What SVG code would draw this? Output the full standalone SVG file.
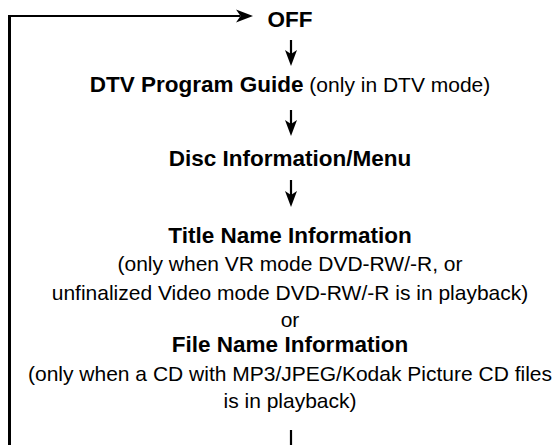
<svg xmlns="http://www.w3.org/2000/svg" width="558" height="445" viewBox="0 0 558 445">
<style>
text{font-family:"Liberation Sans",Arial,sans-serif;fill:#000;text-anchor:middle}
.b{font-weight:bold;font-size:22.5px}
.r{font-size:21px}
.ln{stroke:#000;fill:none}
.hd{fill:#000;stroke:none}
</style>
<rect width="558" height="445" fill="#fff"/>
<g id="connectors">
<path class="ln" d="M9.5 445 V16" stroke-width="3"/>
<path class="ln" d="M8 16 H240" stroke-width="2.2"/>
<path class="hd" d="M253 16 L236 9.5 L240.5 16 L236 22.5 Z"/>
<path class="ln" d="M291 40 V55" stroke-width="2.2"/>
<path class="hd" d="M291 66 L285 50 L291 54 L297 50 Z"/>
<path class="ln" d="M291 110 V125" stroke-width="2.2"/>
<path class="hd" d="M291 136 L285 120 L291 124 L297 120 Z"/>
<path class="ln" d="M291 180 V195" stroke-width="2.2"/>
<path class="hd" d="M291 207 L285 191 L291 195 L297 191 Z"/>
<path class="ln" d="M291 430 V445" stroke-width="2.2"/>
</g>
<g id="off"><text class="b" x="290" y="27">OFF</text></g>
<g id="dtv"><text x="290" y="92"><tspan class="b">DTV Program Guide</tspan><tspan class="r"> (only in DTV mode)</tspan></text></g>
<g id="disc"><text class="b" x="290" y="166">Disc Information/Menu</text></g>
<g id="title">
<text class="b" x="290" y="243">Title Name Information</text>
<text class="r" x="290" y="271">(only when VR mode DVD-RW/-R, or</text>
<text class="r" x="290" y="300">unfinalized Video mode DVD-RW/-R is in playback)</text>
<text class="r" x="290" y="327">or</text>
</g>
<g id="file">
<text class="b" x="290" y="352">File Name Information</text>
<text class="r" x="290" y="381">(only when a CD with MP3/JPEG/Kodak Picture CD files</text>
<text class="r" x="290" y="408">is in playback)</text>
</g>
</svg>
